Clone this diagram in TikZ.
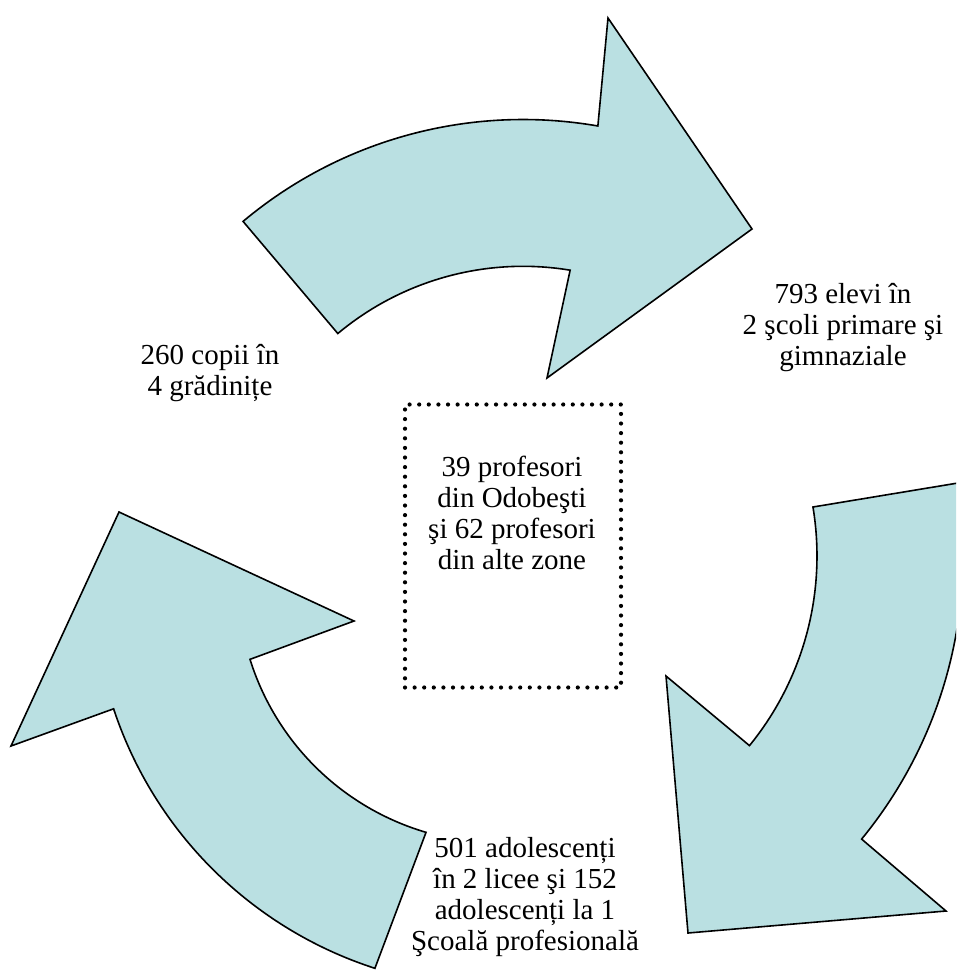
\documentclass[tikz,border=0pt]{standalone}
\usepackage{fontspec}
\setmainfont{Liberation Serif}
\usepackage{tikz}
\usepackage{xcolor}
\definecolor{arrowfill}{RGB}{186,224,226}

\begin{document}
\begin{tikzpicture}[x=1pt,y=-1pt,
	arrowbody/.style={fill=arrowfill, draw=black, line width=1.6pt},
	lbl/.style={align=center, inner sep=0pt, font=\fontsize{29}{31}\selectfont},
	profbox/.style={draw=black, line width=4.2pt, dash pattern=on 0pt off 9.6pt, line cap=round, minimum width=216pt, minimum height=283pt, inner sep=0pt}]
						\useasboundingbox (0,0) rectangle (956,972);
						\clip (0,0) rectangle (956,972);
						\coordinate (c1) at (523,555);
						\coordinate (c2) at (517,556);
						\coordinate (c3) at (500,581);
						\draw[arrowbody] (608,18) -- ([shift={(-80.1:435.5)}]c1) arc[start angle=-80.1, end angle=-130, radius=435.5] -- ([shift={(-129.9:288.7)}]c1) arc[start angle=-129.9, end angle=-80.6, radius=288.7] -- (547,378) -- (752,229) -- cycle;
						\draw[arrowbody] (666,676) -- ([shift={(39.2:300)}]c2) arc[start angle=39.2, end angle=-9.4, radius=300] -- ([shift={(-9.4:446)}]c2) arc[start angle=-9.4, end angle=39.4, radius=446] -- (946,911) -- (688,933) -- cycle;
						\draw[arrowbody] (119,512) -- (354,621) -- ([shift={(162.6:262)}]c3) arc[start angle=162.6, end angle=106.4, radius=262] -- ([shift={(107.9:407)}]c3) arc[start angle=107.9, end angle=161.7, radius=407] -- (11,746) -- cycle;
						\node[lbl] (kinder) at (210,373) {260 copii în\\4 grădinițe};
						\node[lbl] (primary) at (843,328) {793 elevi în\\2 şcoli primare şi\\gimnaziale};
						\node[profbox] (box) at (513,546) {};
						\node[lbl] (teachers) at (512,513) {39 profesori\\din Odobeşti\\şi 62 profesori\\din alte zone};
						\node[lbl] (teens) at (525,897) {501 adolescenți\\în 2 licee şi 152\\adolescenți la 1\\Şcoală profesională};
					\end{tikzpicture}
\end{document}
